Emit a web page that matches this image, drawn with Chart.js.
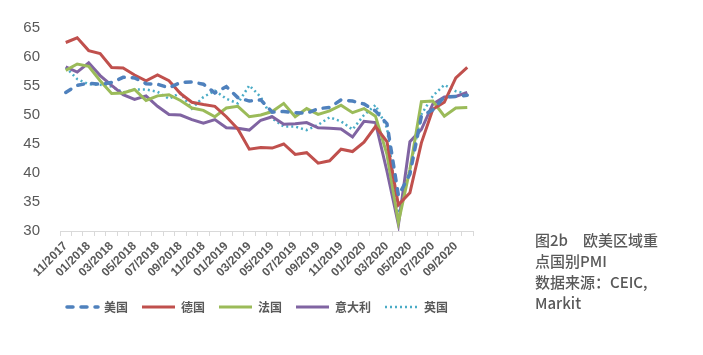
<!DOCTYPE html>
<html>
<head>
<meta charset="utf-8">
<script src="https://cdn.jsdelivr.net/npm/chart.js@4/dist/chart.umd.min.js"></script>
<style>
    body { margin: 0; background: #fff; }
    #wrap { position: relative; width: 703px; height: 355px; }
    #nota {
        position: absolute; left: 535px; top: 229px;
        font-family: "Noto Sans CJK SC", sans-serif; font-size: 15px; font-weight: 500;
        line-height: 21px; color: #595959;
    }
</style>
</head>
<body>
<div id="wrap">
    <canvas id="graficoPmi" width="703" height="355"></canvas>
    <div id="nota">图2b　欧美区域重<br>点国别PMI<br>数据来源：CEIC,<br>Markit</div>
</div>
<script>
// meses de 11/2017 a 10/2020
const meses = [
    '11/2017', '12/2017',
    '01/2018', '02/2018', '03/2018', '04/2018', '05/2018', '06/2018',
    '07/2018', '08/2018', '09/2018', '10/2018', '11/2018', '12/2018',
    '01/2019', '02/2019', '03/2019', '04/2019', '05/2019', '06/2019',
    '07/2019', '08/2019', '09/2019', '10/2019', '11/2019', '12/2019',
    '01/2020', '02/2020', '03/2020', '04/2020', '05/2020', '06/2020',
    '07/2020', '08/2020', '09/2020', '10/2020'
];

const eua = [53.9, 55.1, 55.5, 55.3, 55.6, 56.5, 56.4, 55.4, 55.3, 54.7, 55.6, 55.7,
    55.3, 53.8, 54.9, 53.0, 52.4, 52.6, 50.5, 50.6, 50.4, 50.3, 51.1, 51.3,
    52.6, 52.4, 51.9, 50.7, 48.5, 36.1, 39.8, 49.8, 50.9, 53.1, 53.2, 53.4];
const alemanha = [62.5, 63.3, 61.1, 60.6, 58.2, 58.1, 56.9, 55.9, 56.9, 55.9, 53.7, 52.2,
    51.8, 51.5, 49.7, 47.6, 44.1, 44.4, 44.3, 45.0, 43.2, 43.5, 41.7, 42.1,
    44.1, 43.7, 45.3, 48.0, 45.4, 34.5, 36.6, 45.2, 51.0, 52.2, 56.4, 58.2];
const franca = [57.7, 58.8, 58.4, 55.9, 53.7, 53.8, 54.4, 52.5, 53.3, 53.5, 52.5, 51.2,
    50.8, 49.7, 51.2, 51.5, 49.7, 50.0, 50.6, 52.0, 49.7, 51.1, 50.1, 50.7,
    51.7, 50.4, 51.1, 49.8, 43.2, 31.5, 40.6, 52.3, 52.4, 49.8, 51.2, 51.3];
const italia = [58.3, 57.4, 59.0, 56.8, 55.1, 53.5, 52.7, 53.3, 51.5, 50.1, 50.0, 49.2,
    48.6, 49.2, 47.8, 47.7, 47.4, 49.1, 49.7, 48.4, 48.5, 48.7, 47.8, 47.7,
    47.6, 46.2, 48.9, 48.7, 40.3, 31.1, 45.4, 47.5, 51.9, 53.1, 53.2, 53.9];
const reinoUnido = [58.2, 56.2, 55.3, 55.2, 54.9, 53.9, 54.4, 54.4, 54.0, 52.8, 53.8, 51.1,
    53.1, 54.2, 52.8, 52.0, 55.1, 53.1, 49.4, 48.0, 48.0, 47.4, 48.3, 49.6,
    48.9, 47.5, 50.0, 51.7, 47.8, 32.6, 40.7, 50.1, 53.3, 55.2, 54.1, 53.7];

const ticksY = [30, 35, 40, 45, 50, 55, 60, 65];

const cinza = '#595959';
const larguraMarca = 33;

function serie(label, data, cor, extra) {
    return Object.assign({
        label: label,
        data: data,
        borderColor: cor,
        backgroundColor: cor,
        borderWidth: 3,
        pointRadius: 0,
        tension: 0,
        fill: false
    }, extra || {});
}

// a legenda com pointStyle 'line' ignora o tracejado, entao desenha por cima
const legendaTracejada = {
    id: 'legendaTracejada',
    afterLayout(chart) {
        // empurra a legenda um pouco para a direita, como no original
        chart.legend.left += 15;
        chart.legend.right += 15;
    },
    afterDraw(chart) {
        const legenda = chart.legend;
        const c = chart.ctx;
        legenda.legendItems.forEach((item, i) => {
            const ds = chart.data.datasets[item.datasetIndex];
            if (!ds.borderDash) return;
            const box = legenda.legendHitBoxes[i];
            const y = box.top + 6;
            c.save();
            c.strokeStyle = ds.borderColor;
            c.lineWidth = ds.borderWidth;
            c.lineCap = ds.borderCapStyle || 'butt';
            c.setLineDash(ds.borderDash);
            c.beginPath();
            c.moveTo(box.left + (ds.borderCapStyle === 'round' ? 2 : 0), y);
            c.lineTo(box.left + larguraMarca, y);
            c.stroke();
            c.restore();
        });
    }
};

const ctx = document.getElementById('graficoPmi').getContext('2d');

new Chart(ctx, {
    type: 'line',
    data: {
        labels: meses,
        datasets: [
            serie('美国', eua, '#4F81BD', { borderDash: [6, 8], borderCapStyle: 'round', borderWidth: 3.5 }),
            serie('德国', alemanha, '#C0504D'),
            serie('法国', franca, '#9BBB59'),
            serie('意大利', italia, '#8064A2'),
            serie('英国', reinoUnido, '#4BACC6', { borderDash: [2, 3], borderWidth: 2.5 })
        ]
    },
    plugins: [legendaTracejada],
    options: {
        responsive: false,
        animation: false,
        layout: {
            padding: { left: 10, right: 230, top: 28, bottom: 32 }
        },
        plugins: {
            legend: {
                position: 'bottom',
                labels: {
                    usePointStyle: true,
                    pointStyle: 'line',
                    pointStyleWidth: larguraMarca,
                    padding: 14,
                    color: cinza,
                    font: { family: '"Noto Sans CJK SC", sans-serif', size: 12, weight: 'bold' },
                    generateLabels: function (chart) {
                        const itens = Chart.defaults.plugins.legend.labels.generateLabels(chart);
                        itens.forEach(it => {
                            if (chart.data.datasets[it.datasetIndex].borderDash) {
                                it.strokeStyle = 'rgba(0,0,0,0)';
                            }
                        });
                        return itens;
                    }
                }
            },
            tooltip: { enabled: false }
        },
        scales: {
            x: {
                offset: true,
                grid: {
                    display: true,
                    offset: true,
                    drawOnChartArea: false,
                    drawTicks: true,
                    tickLength: 5,
                    color: '#d9d9d9'
                },
                border: { display: true, color: '#d9d9d9' },
                ticks: {
                    autoSkip: false,
                    maxRotation: 45,
                    minRotation: 45,
                    padding: 3,
                    color: cinza,
                    font: { family: '"Liberation Sans", Arial, sans-serif', size: 12, weight: 'bold' },
                    callback: function (val, i) {
                        return i % 2 === 0 ? meses[i] : '';
                    }
                },
                afterFit: function (escala) { escala.height = 56; }
            },
            y: {
                min: ticksY[0],
                max: ticksY[ticksY.length - 1],
                grid: { display: false },
                border: { display: false },
                afterBuildTicks: function (escala) {
                    escala.ticks = ticksY.map(v => ({ value: v }));
                },
                ticks: {
                    padding: 12,
                    color: cinza,
                    font: { family: '"Liberation Sans", Arial, sans-serif', size: 15 }
                },
                afterFit: function (escala) { escala.width = 50; }
            }
        }
    }
});
</script>
</body>
</html>
